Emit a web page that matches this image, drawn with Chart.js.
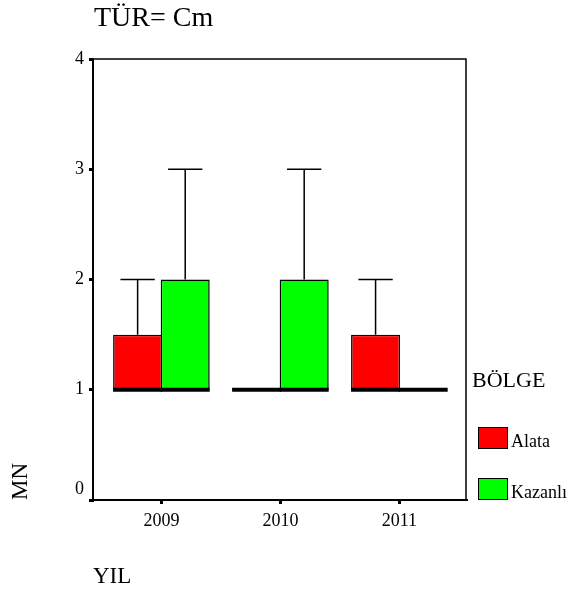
<!DOCTYPE html>
<html><head><meta charset="utf-8">
<script src="https://cdn.jsdelivr.net/npm/chart.js@4.4.1/dist/chart.umd.min.js"></script>
<style>
html,body{margin:0;padding:0;background:#fff;}
#wrap{position:relative;width:572px;height:597px;font-family:"Liberation Serif","Times New Roman",serif;color:#000;}
canvas{position:absolute;left:0;top:0;}
.t{position:absolute;white-space:nowrap;line-height:1;}
.sw{position:absolute;width:30px;height:22px;box-sizing:border-box;border:1.5px solid #000;}
</style></head><body>
<div id="wrap">
<canvas id="c" width="572" height="597"></canvas>
<div class="t" style="left:94px;top:3px;font-size:28px;">TÜR= Cm</div>
<div class="t" style="left:472px;top:369px;font-size:22px;">BÖLGE</div>
<div id="leg"></div>
</div>
<script>
// ---- data ----
const years = ['2009', '2010', '2011'];
const seriesNames = ['Alata', 'Kazanlı'];
const seriesColors = ['#ff0000', '#00ff00'];
const yTicks = [0, 1, 2, 3, 4];

const alataMin = [1, 1, 1];
const alataQ1 = [1, 1, 1];
const alataMedian = [1, 1, 1];
const alataQ3 = [1.5, 1, 1.5];
const alataMax = [2, 1, 2];

const kazanliMin = [1, 1, 1];
const kazanliQ1 = [1, 1, 1];
const kazanliMedian = [1, 1, 1];
const kazanliQ3 = [2, 2, 1];
const kazanliMax = [3, 3, 1];

const stats = [
  {min: alataMin, q1: alataQ1, med: alataMedian, q3: alataQ3, max: alataMax},
  {min: kazanliMin, q1: kazanliQ1, med: kazanliMedian, q3: kazanliQ3, max: kazanliMax}
];

// ---- legend (HTML) ----
const leg = document.getElementById('leg');
const legTops = [427, 478];
seriesNames.forEach((n, i) => {
  const sw = document.createElement('div');
  sw.className = 'sw';
  sw.style.left = '478px';
  sw.style.top = legTops[i] + 'px';
  sw.style.background = seriesColors[i];
  leg.appendChild(sw);
  const t = document.createElement('div');
  t.className = 't';
  t.style.left = '511px';
  t.style.top = (legTops[i] + 5) + 'px';
  t.style.fontSize = '18px';
  t.textContent = n;
  leg.appendChild(t);
});

// ---- plugins ----
const boxPlugin = {
  id: 'boxWhisker',
  afterDatasetsDraw(chart) {
    const ctx = chart.ctx;
    const ys = chart.scales.y;
    chart.data.datasets.forEach((ds, di) => {
      const meta = chart.getDatasetMeta(di);
      const st = stats[di];
      meta.data.forEach((bar, i) => {
        const x = bar.x, w = bar.width;
        ctx.save();
        ctx.strokeStyle = '#000';
        ctx.lineWidth = 1.5;
        const cap = w * 0.35;
        if (st.max[i] > st.q3[i]) {
          const y0 = ys.getPixelForValue(st.q3[i]);
          const y1 = ys.getPixelForValue(st.max[i]);
          ctx.beginPath();
          ctx.moveTo(x, y0); ctx.lineTo(x, y1);
          ctx.moveTo(x - cap, y1); ctx.lineTo(x + cap, y1);
          ctx.stroke();
        }
        if (st.min[i] < st.q1[i]) {
          const y0 = ys.getPixelForValue(st.q1[i]);
          const y1 = ys.getPixelForValue(st.min[i]);
          ctx.beginPath();
          ctx.moveTo(x, y0); ctx.lineTo(x, y1);
          ctx.moveTo(x - cap, y1); ctx.lineTo(x + cap, y1);
          ctx.stroke();
        }
        const ym = ys.getPixelForValue(st.med[i]);
        ctx.lineWidth = 4;
        ctx.beginPath();
        ctx.moveTo(x - w / 2, ym); ctx.lineTo(x + w / 2, ym);
        ctx.stroke();
        ctx.restore();
      });
    });
  }
};

const framePlugin = {
  id: 'frame',
  afterDraw(chart) {
    const {ctx, chartArea: a} = chart;
    ctx.save();
    ctx.strokeStyle = '#000';
    ctx.lineWidth = 1.5;
    ctx.beginPath();
    ctx.moveTo(a.left, a.top); ctx.lineTo(a.right, a.top); ctx.lineTo(a.right, a.bottom);
    ctx.stroke();
    ctx.restore();
  }
};

const font = (s) => ({family: '"Liberation Serif", "Times New Roman", serif', size: s});

new Chart(document.getElementById('c'), {
  type: 'bar',
  data: {
    datasets: seriesNames.map((n, di) => ({
      label: n,
      data: years.map((y, i) => ({x: i, y: [stats[di].q1[i], stats[di].q3[i]]})),
      backgroundColor: seriesColors[di],
      borderColor: '#000',
      borderWidth: 1.5,
      borderSkipped: false
    }))
  },
  options: {
    responsive: false,
    animation: false,
    devicePixelRatio: 1,
    categoryPercentage: 0.8,
    barPercentage: 1.03,
    layout: {padding: {top: 59, right: 106, bottom: 4, left: 0}},
    plugins: {legend: {display: false}, tooltip: {enabled: false}, title: {display: false}},
    scales: {
      x: {
        type: 'linear',
        min: -0.575,
        max: 2.56,
        offset: false,
        afterFit: (s) => { s.height = 93; },
        afterBuildTicks: (s) => { s.ticks = years.map((_, i) => ({value: i})); },
        grid: {offset: false, drawOnChartArea: false, color: '#000', tickLength: 4, tickWidth: 3, lineWidth: 3},
        border: {display: true, color: '#000', width: 2},
        ticks: {color: '#000', font: font(18), padding: 6, autoSkip: false, maxRotation: 0,
          callback: (v) => years[v]},
        title: {display: true, text: 'YIL', align: 'start', color: '#000', font: font(23), padding: {top: 0, bottom: 2}}
      },
      y: {
        type: 'linear',
        min: 0,
        max: 4,
        afterFit: (s) => { s.width = 93; },
        afterBuildTicks: (s) => { s.ticks = yTicks.map((v) => ({value: v})); },
        grid: {drawOnChartArea: false, color: '#000', tickLength: 4, tickWidth: 3, lineWidth: 3},
        border: {display: true, color: '#000', width: 2},
        ticks: {color: '#000', font: font(18), padding: 5,
          callback: (v, i) => i === 0 ? [String(v), ''] : String(v)},
        title: {display: true, text: 'MN', align: 'start', color: '#000', font: font(23), padding: {top: 7, bottom: 0}}
      }
    }
  },
  plugins: [boxPlugin, framePlugin]
});
</script>
</body></html>
